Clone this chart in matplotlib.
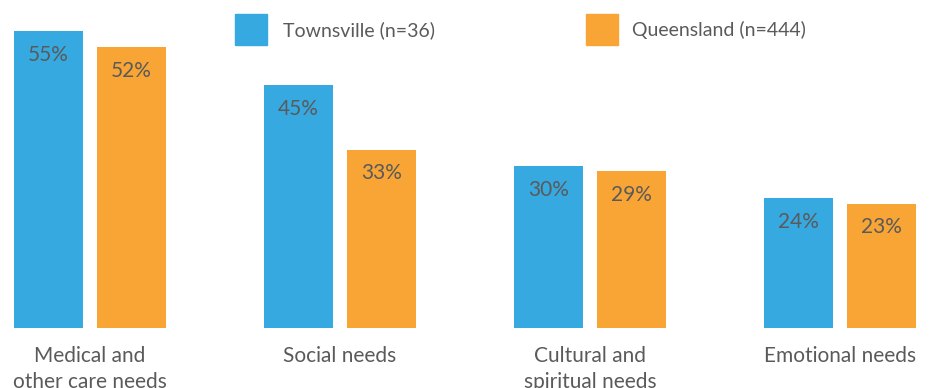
import matplotlib
matplotlib.use("Agg")
import matplotlib.pyplot as plt
from matplotlib.patches import Rectangle
import numpy as np

plt.rcParams['font.family'] = ['Lato', 'DejaVu Sans']

categories = ["Medical and\nother care needs", "Social needs",
              "Cultural and\nspiritual needs", "Emotional needs"]
townsville = [55, 45, 30, 24]
queensland = [52, 33, 29, 23]
series_names = ["Townsville (n=36)", "Queensland (n=444)"]

blue = "#36a9e1"
orange = "#f9a535"
grey = "#5a5a5a"

W, H = 934, 388
fig = plt.figure(figsize=(W / 100, H / 100), dpi=100)
ax = fig.add_axes([0, 0, 1, 1])

x = np.arange(len(categories))
bw = 0.276
off = 0.166
b1 = ax.bar(x - off, townsville, bw, color=blue)
b2 = ax.bar(x + off, queensland, bw, color=orange)

# value labels just inside the top of each bar
for bars, vals in ((b1, townsville), (b2, queensland)):
    for rect, v in zip(bars, vals):
        ax.annotate(f"{v}%", (rect.get_x() + rect.get_width() / 2, v),
                    xytext=(0, -17), textcoords="offset points",
                    ha="center", va="center", fontsize=15, color=grey)

# groups 250 px apart, baseline 60 px above the bottom edge
ax.set_xlim(-90 / 250, (W - 90) / 250)
ppu = 5.4
ax.set_ylim(-60 / ppu, (H - 60) / ppu)
ax.set_xticks([])
ax.set_yticks([])
for s in ax.spines.values():
    s.set_visible(False)
ax.patch.set_alpha(0)

# category labels under the bars
for xi, c in zip(x, categories):
    ax.annotate(c, (xi, 0), xytext=(0, -13), textcoords="offset points",
                ha="center", va="top", fontsize=15, color=grey,
                linespacing=1.4, annotation_clip=False)

# legend
for (lx, tx), name, col in zip(((235, 283), (586, 632)), series_names, (blue, orange)):
    fig.add_artist(Rectangle((lx / W, 1 - 45 / H), 32 / W, 31 / H,
                             transform=fig.transFigure, color=col))
    fig.text(tx / W, 1 - 30 / H, name, fontsize=14, color=grey,
             ha="left", va="center")

fig.savefig("out.png", dpi=100)
